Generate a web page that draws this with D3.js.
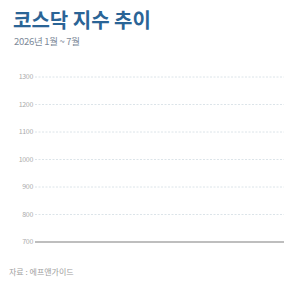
<!DOCTYPE html>
<html>
<head>
<meta charset="utf-8">
<script src="https://cdn.jsdelivr.net/npm/d3@7.9.0/dist/d3.min.js"></script>
<style>
  html, body { margin: 0; padding: 0; background: #fff; }
  svg { display: block; font-family: "Noto Sans CJK KR", "Noto Sans", sans-serif; }
</style>
</head>
<body>
<div id="chart"></div>
<script>
// ---- data ----
const title = '코스닥 지수 추이';
const subtitle = '2026년 1월 ~ 7월';
const source = '자료 : 에프앤가이드';
const months = ['1월', '2월', '3월', '4월', '5월', '6월', '7월'];
const yTicks = [700, 800, 900, 1000, 1100, 1200, 1300];
const kosdaq = []; // no series drawn in the reference

const W = 284, H = 284;
const margin = { top: 77, right: 0, bottom: 42, left: 35 };

const svg = d3.select('#chart').append('svg')
  .attr('width', W).attr('height', H)
  .attr('viewBox', `0 0 ${W} ${H}`);

svg.append('text')
  .attr('x', 13).attr('y', 28)
  .attr('font-size', 20).attr('font-weight', 700)
  .attr('fill', '#2a6496')
  .text(title);

svg.append('text')
  .attr('x', 14).attr('y', 45)
  .attr('font-size', 9.5)
  .attr('fill', '#7d8a99')
  .attr('letter-spacing', -0.3)
  .text(subtitle);

const x = d3.scalePoint().domain(months).range([margin.left, W - margin.right]);
const y = d3.scaleLinear().domain([700, 1300]).range([H - margin.bottom, margin.top]);

// grid
const grid = svg.append('g');
grid.selectAll('line').data(yTicks.filter(d => d !== 700)).join('line')
  .attr('x1', margin.left).attr('x2', W)
  .attr('y1', d => y(d)).attr('y2', d => y(d))
  .attr('stroke', '#d3dde3')
  .attr('stroke-width', 0.8)
  .attr('stroke-dasharray', '2,1.5');

// baseline
svg.append('line')
  .attr('x1', margin.left).attr('x2', W)
  .attr('y1', y(700)).attr('y2', y(700))
  .attr('stroke', '#a8a8a8')
  .attr('stroke-width', 1.6);

// y labels
svg.append('g').selectAll('text').data(yTicks).join('text')
  .attr('x', margin.left - 2)
  .attr('y', d => y(d))
  .attr('dy', '0.35em')
  .attr('text-anchor', 'end')
  .attr('font-size', 7)
  .attr('fill', '#ababab')
  .attr('letter-spacing', -0.3)
  .text(d => d);

// series (empty in reference)
const line = d3.line().x((d, i) => x(months[i])).y(d => y(d));
svg.append('path').datum(kosdaq)
  .attr('fill', 'none').attr('stroke', '#2a6496').attr('stroke-width', 2)
  .attr('d', kosdaq.length ? line(kosdaq) : null);

svg.append('text')
  .attr('x', 9).attr('y', 275)
  .attr('font-size', 8)
  .attr('fill', '#a0a0a0')
  .text(source);
</script>
</body>
</html>
